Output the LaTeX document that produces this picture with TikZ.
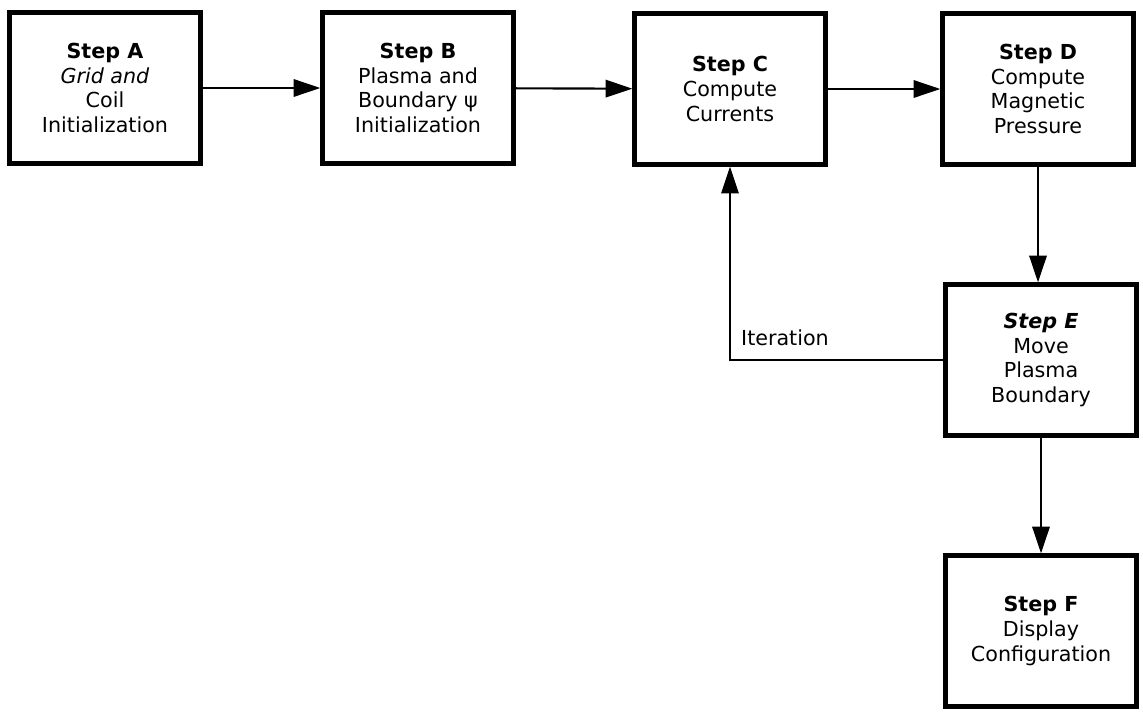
\documentclass[tikz,border=0pt]{standalone}
\usepackage{fontspec}
\setmainfont{DejaVu Sans}
\usetikzlibrary{arrows.meta,positioning}

\tikzset{
  stepbox/.style={draw, line width=3.5pt, minimum width=143pt, minimum height=113pt,
    align=center, inner sep=2pt, font=\fontsize{15.5}{18.5}\selectfont},
  flow/.style={line width=1.6pt, -{Triangle[length=20pt,width=13pt]}},
}

\begin{document}
\begin{tikzpicture}[x=0.75pt,y=-0.75pt]
   \useasboundingbox (0,0) rectangle (1143,714);
   % top row of steps
   \node[stepbox] (stepA) at (105,88) {\textbf{Step A}\\\textit{Grid and}\\Coil\\Initialization};
   \node[stepbox] (stepB) at (418,88) {\textbf{Step B}\\Plasma and\\Boundary ψ\\Initialization};
   \node[stepbox] (stepC) at (730,89) {\textbf{Step C}\\Compute\\Currents};
   \node[stepbox] (stepD) at (1038,89) {\textbf{Step D}\\Compute\\Magnetic\\Pressure};
   % right column
   \node[stepbox] (stepE) at (1041,360) {\textbf{\textit{Step E}}\\Move\\Plasma\\Boundary};
   \node[stepbox] (stepF) at (1041,631) {\textbf{Step F}\\Display\\Configuration};
   % connectors
   \draw[flow] (stepA) -- (stepB);
   \draw[flow] (stepB) -- (stepC);
   \draw[flow] (stepC) -- (stepD);
   \draw[flow] (stepD.south) -- (stepD.south |- stepE.north);
   \draw[flow] (stepE.south) -- (stepE.south |- stepF.north);
   \draw[flow,line width=1.2pt] (stepE.west) -| (stepC.south);
   \node[font=\fontsize{15.5}{18.5}\selectfont] (iter) at (785,338) {Iteration};
\end{tikzpicture}
\end{document}
